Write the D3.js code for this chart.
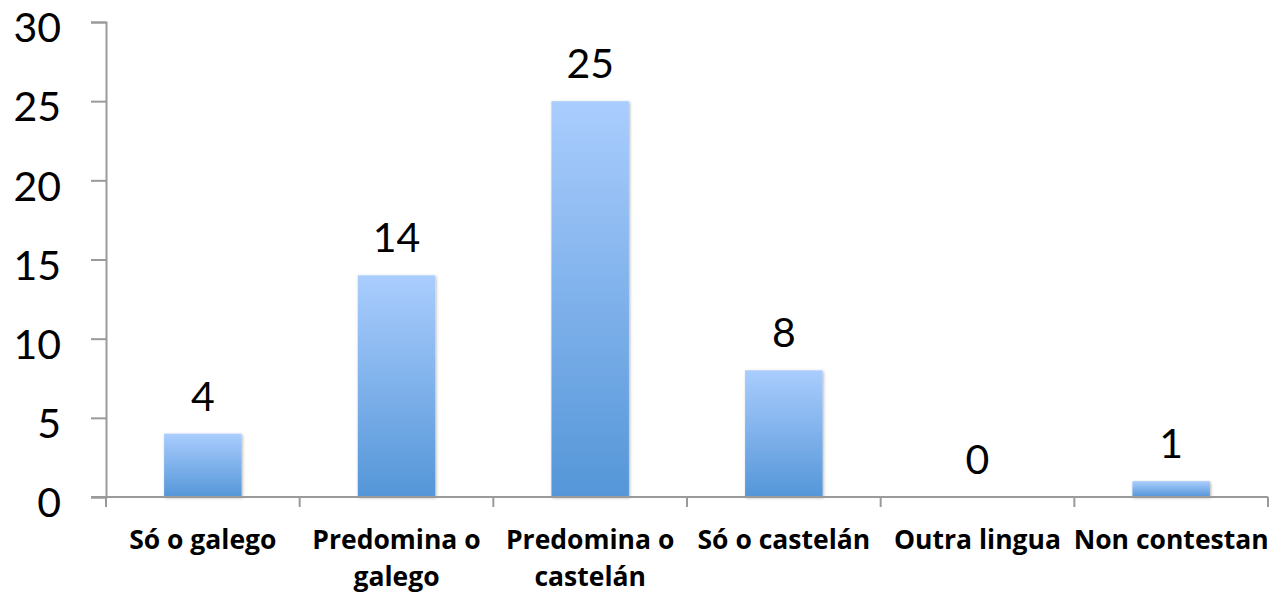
<!DOCTYPE html>
<html>
<head>
<meta charset="utf-8">
<script src="https://cdn.jsdelivr.net/npm/d3@7"></script>
<style>
  body { margin: 0; background: #fff; }
  svg { display: block; }
</style>
</head>
<body>
<svg id="chart"></svg>
<script>
// chart data
const categories = ['Só o galego', 'Predomina o galego', 'Predomina o castelán', 'Só o castelán', 'Outra lingua', 'Non contestan']
const values = [4, 14, 25, 8, 0, 1]
const yTicks = [0, 5, 10, 15, 20, 25, 30]
// how the long labels break onto two lines
const labelLines = [['Só o galego'], ['Predomina o', 'galego'], ['Predomina o', 'castelán'], ['Só o castelán'], ['Outra lingua'], ['Non contestan']]

const width = 1274
const height = 594
const margin = { top: 22, right: 6, bottom: 97, left: 106 }

let svg = d3.select('#chart')
  .attr('width', width)
  .attr('height', height)

let defs = svg.append('defs')
let grad = defs.append('linearGradient')
  .attr('id', 'barGrad')
  .attr('x1', 0).attr('y1', 0).attr('x2', 0).attr('y2', 1)
grad.append('stop').attr('offset', '0%').attr('stop-color', '#aacdfe')
grad.append('stop').attr('offset', '100%').attr('stop-color', '#5496d8')

let shadow = defs.append('filter').attr('id', 'shadow')
  .attr('x', '-10%').attr('y', '-10%').attr('width', '130%').attr('height', '130%')
shadow.append('feDropShadow')
  .attr('dx', 1).attr('dy', 1).attr('stdDeviation', 1.5)
  .attr('flood-color', '#000').attr('flood-opacity', 0.3)

let x = d3.scaleBand()
  .domain(categories)
  .range([margin.left, width - margin.right])
  .paddingInner(0.6)
  .paddingOuter(0.3)

let y = d3.scaleLinear()
  .domain([0, 30])
  .range([height - margin.bottom, margin.top])

// bars
svg.append('g')
  .selectAll('rect')
  .data(values)
  .enter().append('rect')
  .attr('x', (d, i) => x(categories[i]))
  .attr('y', d => y(d))
  .attr('width', x.bandwidth())
  .attr('height', d => y(0) - y(d))
  .attr('fill', 'url(#barGrad)')
  .attr('filter', 'url(#shadow)')

// value labels
svg.append('g')
  .selectAll('text')
  .data(values)
  .enter().append('text')
  .attr('x', (d, i) => x(categories[i]) + x.bandwidth() / 2)
  .attr('y', d => y(d) - 23)
  .attr('text-anchor', 'middle')
  .attr('font-family', 'Lato, sans-serif')
  .attr('font-size', 41)
  .attr('fill', '#000')
  .text(d => d)

// y axis
let yAxis = svg.append('g')
  .attr('transform', `translate(${margin.left},0)`)
  .call(d3.axisLeft(y).tickValues(yTicks).tickSize(15).tickPadding(30))
yAxis.select('.domain').attr('stroke', '#9a9a9a').attr('stroke-width', 2)
yAxis.selectAll('.tick line').attr('stroke', '#9a9a9a').attr('stroke-width', 2)
yAxis.selectAll('.tick text')
  .attr('font-family', 'Lato, sans-serif')
  .attr('font-size', 41)
  .attr('fill', '#000')
  .attr('dy', '0.48em')

// x axis: baseline plus ticks between categories
let xAxisG = svg.append('g')
xAxisG.append('line')
  .attr('x1', margin.left - 15).attr('x2', width - margin.right)
  .attr('y1', y(0)).attr('y2', y(0))
  .attr('stroke', '#9a9a9a').attr('stroke-width', 2)

let bounds = d3.range(categories.length + 1).map(i => margin.left + i * (width - margin.left - margin.right) / categories.length)
xAxisG.selectAll('line.tk')
  .data(bounds)
  .enter().append('line')
  .attr('class', 'tk')
  .attr('x1', d => d).attr('x2', d => d)
  .attr('y1', y(0)).attr('y2', y(0) + 10)
  .attr('stroke', '#9a9a9a').attr('stroke-width', 2)

// category labels
let labels = xAxisG.selectAll('text.cat')
  .data(labelLines)
  .enter().append('text')
  .attr('class', 'cat')
  .attr('x', (d, i) => x(categories[i]) + x.bandwidth() / 2)
  .attr('y', 549)
  .attr('text-anchor', 'middle')
  .attr('font-family', '"Open Sans", sans-serif')
  .attr('font-weight', 'bold')
  .attr('font-size', 26.5)
  .attr('fill', '#000')

labels.selectAll('tspan')
  .data(d => d)
  .enter().append('tspan')
  .attr('x', function () { return this.parentNode.getAttribute('x') })
  .attr('dy', (d, i) => i === 0 ? 0 : 37)
  .text(d => d)
</script>
</body>
</html>
